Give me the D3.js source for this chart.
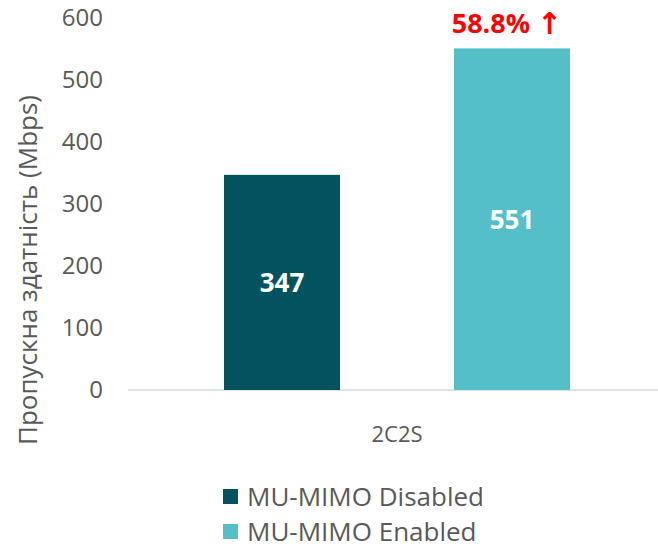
<!DOCTYPE html>
<html><head><meta charset="utf-8">
<script src="https://cdn.jsdelivr.net/npm/d3@7"></script>
<style>html,body{margin:0;padding:0;background:#fff;}svg{display:block;}</style>
</head><body>
<svg id="chart" width="658" height="544"></svg>
<script>
const categories = ["2C2S"];
const seriesNames = ["MU-MIMO Disabled", "MU-MIMO Enabled"];
const seriesValues = [347, 551];
const seriesColors = ["#02535F", "#54BFC9"];
const yTicks = [0, 100, 200, 300, 400, 500, 600];
const yTitle = "Пропускна здатність (Mbps)";
const increaseText = "58.8%";
const increaseArrow = "↑";

const font = "'Open Sans', 'Noto Sans', sans-serif";
const svg = d3.select("#chart");

const y = d3.scaleLinear().domain([0, 600]).range([390, 18]);
const x0 = d3.scaleBand().domain(categories).range([128, 666]).paddingInner(0).paddingOuter(0.2775);
const x1 = d3.scaleBand().domain(seriesNames).range([0, x0.bandwidth()]).paddingInner(0.4957).paddingOuter(0);

// y axis labels
const yAxis = d3.axisLeft(y).tickValues(yTicks).tickSize(0).tickPadding(0);
const gy = svg.append("g").attr("transform", "translate(103,0)").call(yAxis);
gy.select(".domain").remove();
gy.selectAll("text").attr("font-family", font).attr("font-size", 24).attr("fill", "#595959");

// baseline
svg.append("line").attr("x1", 128).attr("x2", 658).attr("y1", y(0)).attr("y2", y(0))
  .attr("stroke", "#d9d9d9").attr("stroke-width", 1.5);

// bars
const g = svg.append("g").attr("transform", `translate(${x0(categories[0])},0)`);
g.selectAll("rect").data(seriesValues).join("rect")
  .attr("x", (d, i) => x1(seriesNames[i]))
  .attr("y", d => y(d))
  .attr("width", x1.bandwidth())
  .attr("height", d => y(0) - y(d))
  .attr("fill", (d, i) => seriesColors[i]);

g.selectAll("text.val").data(seriesValues).join("text").attr("class", "val")
  .attr("x", (d, i) => x1(seriesNames[i]) + x1.bandwidth() / 2)
  .attr("y", d => (y(d) + y(0)) / 2)
  .attr("dy", "0.36em")
  .attr("text-anchor", "middle")
  .attr("font-family", font).attr("font-weight", "bold").attr("font-size", 26)
  .attr("fill", "#fff")
  .text(d => d);

// increase label
const inc = svg.append("text")
  .attr("x", x0(categories[0]) + x1(seriesNames[1]) + x1.bandwidth() / 2 - 5)
  .attr("y", y(seriesValues[1]) - 15)
  .attr("text-anchor", "middle")
  .attr("font-family", font).attr("font-weight", "bold").attr("font-size", 27)
  .attr("fill", "#ff0000");
inc.append("tspan").text(increaseText + " ");
inc.append("tspan").attr("font-family", "'DejaVu Sans', sans-serif").attr("font-weight", "bold").attr("font-size", 30).attr("dy", 1).text(increaseArrow);

// x axis label
svg.append("text")
  .attr("x", x0(categories[0]) + x0.bandwidth() / 2)
  .attr("y", 434).attr("dy", "0.36em")
  .attr("text-anchor", "middle")
  .attr("font-family", font).attr("font-size", 22).attr("fill", "#595959")
  .text(categories[0]);

// y title
svg.append("text")
  .attr("transform", "translate(37,270) rotate(-90)")
  .attr("text-anchor", "middle")
  .attr("font-family", font).attr("font-size", 26).attr("fill", "#595959")
  .text(yTitle);

// legend
const leg = svg.append("g");
seriesNames.forEach((n, i) => {
  const cy = 497 + i * 35;
  leg.append("rect").attr("x", 223).attr("y", cy - 8).attr("width", 15).attr("height", 15).attr("fill", seriesColors[i]);
  leg.append("text").attr("x", 247).attr("y", cy).attr("dy", "0.35em")
    .attr("font-family", font).attr("font-size", 26).attr("fill", "#595959").text(n);
});
</script>
</body></html>
